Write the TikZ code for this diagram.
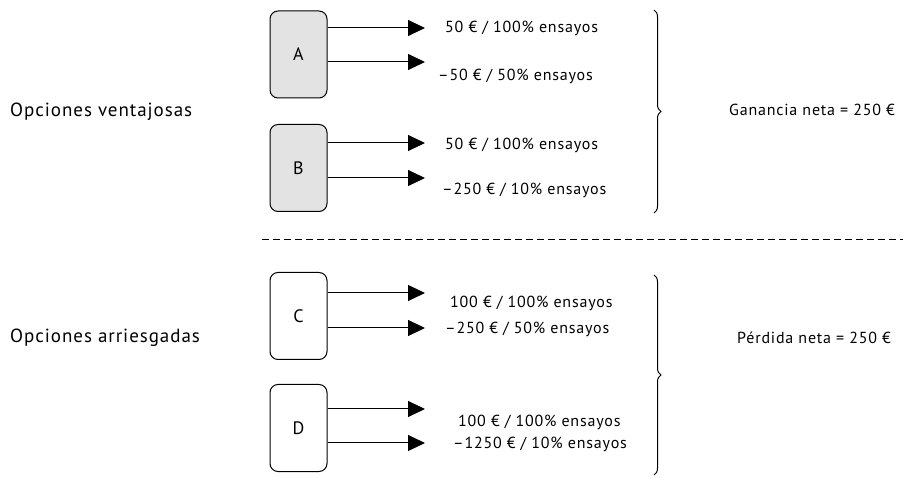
\documentclass[tikz,border=0pt]{standalone}
\usepackage{fontspec}
\setmainfont[LetterSpace=5]{PT Sans}
\usetikzlibrary{arrows.meta,decorations.pathreplacing,positioning}
\begin{document}
\begin{tikzpicture}[x=1pt,y=-1pt,
  opcion/.style={draw,rounded corners=8pt,minimum width=57pt,minimum height=87pt,line width=1pt,font=\fontsize{18}{18}\selectfont},
  resultado/.style={anchor=west,inner sep=0pt,font=\fontsize{16}{16}\selectfont},
  grupo/.style={anchor=west,inner sep=0pt,font=\fontsize{19}{19}\selectfont},
  flecha/.style={-{Triangle[length=17pt,width=16pt]},line width=1pt},
  llave/.style={decorate,decoration={brace,amplitude=7pt},line width=1pt}]
\useasboundingbox (0,0) rectangle (903,478);
% opciones
\node[opcion,fill=gray!22] (A) at (298.5,54.5) {A};
\node[opcion,fill=gray!22] (B) at (298.5,168) {B};
\node[opcion] (C) at (298.5,316) {C};
\node[opcion] (D) at (298.5,428) {D};
% extremos de las flechas
\coordinate (a1) at (425,28);
\coordinate (a2) at (425,62);
\coordinate (b1) at (425,143);
\coordinate (b2) at (425,178);
\coordinate (c1) at (425,293);
\coordinate (c2) at (425,328);
\coordinate (d1) at (425,409);
\coordinate (d2) at (425,443);
\foreach \o/\f in {A/a1,A/a2,B/b1,B/b2,C/c1,C/c2,D/d1,D/d2}
  \draw[flecha] (\o.east |- \f) -- (\f);
% resultados
\node[resultado] (ra1) at (445,28) {50 € / 100\% ensayos};
\node[resultado] (ra2) at (438,76) {–50 € / 50\% ensayos};
\node[resultado] (rb1) at (445,145) {50 € / 100\% ensayos};
\node[resultado] (rb2) at (442,190) {–250 € / 10\% ensayos};
\node[resultado] (rc1) at (450,303) {100 € / 100\% ensayos};
\node[resultado] (rc2) at (445,329) {–250 € / 50\% ensayos};
\node[resultado] (rd1) at (458,422) {100 € / 100\% ensayos};
\node[resultado] (rd2) at (453,444) {–1250 € / 10\% ensayos};
% grupos
\node[grupo] (ventajosas) at (10,112) {Opciones ventajosas};
\node[grupo] (arriesgadas) at (10,338) {Opciones arriesgadas};
\coordinate (lv1) at (654,10);
\coordinate (lv2) at (654,213);
\coordinate (la1) at (654,275);
\coordinate (la2) at (654,475);
\draw[llave] (lv1) -- (lv2);
\draw[llave] (la1) -- (la2);
\node[resultado] (ganancia) at (729,110) {Ganancia neta = 250 €};
\node[resultado] (perdida) at (737,338) {Pérdida neta = 250 €};
% separador
\coordinate (s1) at (262,240);
\coordinate (s2) at (903,240);
\draw[dashed,line width=1pt,dash pattern=on 7pt off 4pt] (s1) -- (s2);
\end{tikzpicture}
\end{document}
